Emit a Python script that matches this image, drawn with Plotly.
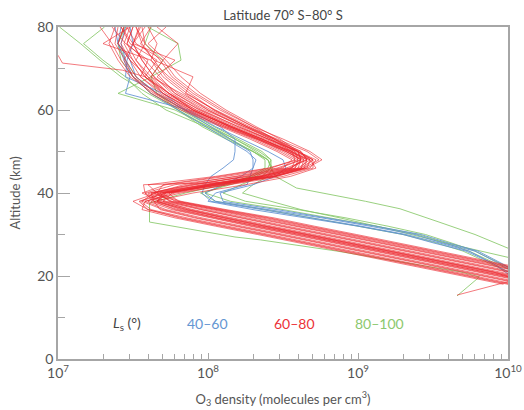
import plotly.graph_objects as go

# ---------------- data ----------------
# altitude grid (km) shared by most profiles
alt_grid = [18, 20, 23, 26, 28, 30, 32, 34, 36, 38, 40, 42, 44, 46, 48, 50, 53, 56, 60, 64, 68, 72, 76, 80]

# log10 of O3 density (molecules per cm^3) on alt_grid, Ls 60-80 (red)
red_logs = [
    [10.60, 10.33, 9.92, 9.51, 9.23, 8.96, 8.68, 8.41, 8.10, 7.80, 7.62, 8.00, 8.36, 8.62, 8.70, 8.60, 8.42, 8.24, 8.00, 7.80, 7.66, 7.78, 7.50, 7.55],
    [10.05, 9.78, 9.37, 8.96, 8.68, 8.41, 8.13, 7.86, 7.62, 7.55, 7.72, 8.05, 8.40, 8.60, 8.62, 8.52, 8.34, 8.15, 7.90, 7.70, 7.55, 7.48, 7.42, 7.46],
    [10.40, 10.13, 9.72, 9.31, 9.03, 8.76, 8.48, 8.21, 7.95, 7.70, 7.58, 7.78, 8.20, 8.52, 8.66, 8.62, 8.45, 8.28, 8.05, 7.85, 7.90, 7.64, 7.55, 7.62],
    [10.25, 9.98, 9.57, 9.16, 8.88, 8.61, 8.33, 8.06, 7.80, 7.62, 7.72, 8.10, 8.45, 8.68, 8.72, 8.60, 8.40, 8.20, 7.95, 7.74, 7.58, 7.66, 7.48, 7.42],
    [10.50, 10.23, 9.82, 9.41, 9.13, 8.86, 8.58, 8.31, 8.02, 7.75, 7.66, 7.60, 8.05, 8.40, 8.60, 8.58, 8.44, 8.30, 8.10, 7.92, 7.78, 7.70, 7.80, 7.66],
    [10.00, 9.73, 9.32, 8.91, 8.63, 8.36, 8.08, 7.81, 7.60, 7.50, 7.66, 7.98, 8.32, 8.56, 8.62, 8.54, 8.36, 8.16, 7.88, 7.66, 7.50, 7.42, 7.36, 7.28],
    [10.30, 10.03, 9.62, 9.21, 8.93, 8.66, 8.38, 8.11, 7.86, 7.66, 7.70, 8.02, 8.38, 8.64, 8.74, 8.66, 8.46, 8.26, 8.02, 7.82, 7.62, 7.52, 7.58, 7.52],
    [10.45, 10.18, 9.77, 9.36, 9.08, 8.81, 8.53, 8.26, 7.98, 7.72, 7.60, 7.90, 8.28, 8.55, 8.64, 8.56, 8.36, 8.14, 7.90, 7.70, 7.60, 7.48, 7.40, 7.44],
    [10.15, 9.88, 9.47, 9.06, 8.78, 8.51, 8.23, 7.96, 7.72, 7.58, 7.78, 8.15, 8.50, 8.70, 8.70, 8.58, 8.38, 8.18, 7.94, 7.76, 7.64, 7.56, 7.50, 7.58],
    [10.55, 10.28, 9.87, 9.46, 9.18, 8.91, 8.63, 8.36, 8.06, 7.76, 7.64, 7.84, 8.18, 8.48, 8.62, 8.60, 8.48, 8.32, 8.12, 7.95, 7.82, 7.72, 7.60, 7.72],
    [10.20, 9.93, 9.52, 9.11, 8.83, 8.56, 8.28, 8.01, 7.76, 7.60, 7.68, 8.00, 8.34, 8.56, 8.58, 8.48, 8.30, 8.10, 7.85, 7.65, 7.52, 7.45, 7.38, 7.40],
    [10.35, 10.08, 9.67, 9.26, 8.98, 8.71, 8.43, 8.16, 7.90, 7.68, 7.56, 7.72, 8.12, 8.46, 8.62, 8.60, 8.44, 8.24, 7.98, 7.78, 7.68, 7.58, 7.46, 7.50],
    [10.10, 9.83, 9.42, 9.01, 8.73, 8.46, 8.18, 7.91, 7.68, 7.64, 7.90, 8.25, 8.55, 8.72, 8.68, 8.54, 8.34, 8.12, 7.86, 7.68, 7.55, 7.60, 7.45, 7.36],
    [10.63, 10.36, 9.95, 9.54, 9.26, 8.99, 8.71, 8.44, 8.12, 7.82, 7.66, 7.70, 8.08, 8.42, 8.58, 8.56, 8.42, 8.26, 8.04, 7.88, 7.74, 7.62, 7.30, 7.48],
    [9.97, 9.70, 9.29, 8.88, 8.60, 8.33, 8.05, 7.78, 7.56, 7.58, 7.82, 8.12, 8.44, 8.62, 8.64, 8.52, 8.32, 8.10, 7.84, 7.64, 7.48, 7.40, 7.34, 7.38],
    [10.42, 10.15, 9.74, 9.33, 9.05, 8.78, 8.50, 8.23, 7.96, 7.74, 7.68, 7.96, 8.34, 8.60, 8.68, 8.60, 8.40, 8.22, 8.00, 7.84, 7.70, 7.62, 7.66, 7.60],
    [10.22, 9.95, 9.54, 9.13, 8.85, 8.58, 8.30, 8.03, 7.78, 7.64, 7.62, 7.88, 8.26, 8.54, 8.66, 8.62, 8.44, 8.26, 8.04, 7.86, 7.72, 7.64, 7.56, 7.52],
    [10.52, 10.25, 9.84, 9.43, 9.15, 8.88, 8.60, 8.33, 8.04, 7.78, 7.70, 8.04, 8.42, 8.66, 8.76, 8.68, 8.50, 8.30, 8.08, 7.90, 7.76, 7.68, 7.58, 7.56],
    [10.12, 9.85, 9.44, 9.03, 8.75, 8.48, 8.20, 7.93, 7.70, 7.56, 7.64, 7.92, 8.24, 8.50, 8.56, 8.46, 8.28, 8.08, 7.82, 7.62, 7.50, 7.44, 7.50, 7.42],
    [10.32, 10.05, 9.64, 9.23, 8.95, 8.68, 8.40, 8.13, 7.88, 7.70, 7.76, 8.08, 8.44, 8.64, 8.66, 8.54, 8.36, 8.16, 7.92, 7.72, 7.58, 7.50, 7.44, 7.48],
    [10.58, 10.31, 9.90, 9.49, 9.21, 8.94, 8.66, 8.39, 8.08, 7.80, 7.74, 8.02, 8.36, 8.58, 8.62, 8.52, 8.34, 8.14, 7.90, 7.74, 7.62, 7.70, 7.52, 7.46],
    [10.02, 9.75, 9.34, 8.93, 8.65, 8.38, 8.10, 7.83, 7.60, 7.54, 7.70, 8.02, 8.36, 8.58, 8.60, 8.50, 8.32, 8.12, 7.88, 7.70, 7.58, 7.50, 7.40, 7.44],
]

# red profiles with their own altitude points
red_zig_alt = [18, 20, 23, 26, 28, 30, 32, 34, 36, 38, 40, 42, 42.6, 44, 46, 48, 50, 53, 56, 60, 64, 68, 72, 76, 80]
red_zig_log = [10.28, 10.01, 9.60, 9.19, 8.91, 8.64, 8.36, 8.09, 7.84, 7.64, 7.58, 7.57, 8.18, 8.46, 8.64, 8.70, 8.60, 8.40, 8.20, 7.96, 7.78, 7.64, 7.56, 7.50, 7.54]

red_left_alt = [18, 20, 23, 26, 28, 30, 32, 34, 36, 38, 40, 42, 44, 46, 48, 50, 53, 56, 60, 64, 68, 69.6, 71.3, 73.2, 76, 80]
red_left_log = [10.25, 9.98, 9.57, 9.16, 8.88, 8.61, 8.33, 8.06, 7.82, 7.66, 7.74, 8.06, 8.40, 8.62, 8.66, 8.56, 8.36, 8.16, 7.92, 7.74, 7.58, 7.43, 7.03, 7.00, 6.80, 6.80]

red_hook_alt = [15.4, 19.2, 21, 23, 26, 28, 30, 32, 34, 36, 38, 40, 42, 44, 46, 48, 50, 53, 56, 60, 64, 68, 72, 76, 80]
red_hook_log = [9.66, 10.06, 9.90, 9.62, 9.21, 8.93, 8.66, 8.38, 8.11, 7.86, 7.66, 7.72, 8.06, 8.44, 8.66, 8.68, 8.56, 8.34, 8.14, 7.90, 7.74, 7.60, 7.52, 7.46, 7.50]

# Ls 40-60 (blue), on alt_grid
blue_logs = [
    [10.25, 10.08, 9.94, 9.78, 9.56, 9.38, 9.08, 8.76, 8.40, 8.05, 7.98, 8.10, 8.22, 8.30, 8.32, 8.26, 8.12, 7.98, 7.80, 7.62, 7.50, 7.45, 7.42, 7.45],
    [10.20, 10.02, 9.90, 9.72, 9.50, 9.30, 9.00, 8.66, 8.30, 8.00, 8.05, 8.26, 8.28, 8.30, 8.30, 8.28, 8.15, 8.02, 7.84, 7.66, 7.52, 7.48, 7.40, 7.38],
    [10.30, 10.10, 9.96, 9.80, 9.60, 9.42, 9.12, 8.80, 8.46, 8.10, 8.08, 8.30, 8.45, 8.52, 8.50, 8.40, 8.22, 8.05, 7.85, 7.70, 7.45, 7.46, 7.50, 7.48],
    [10.22, 10.05, 9.90, 9.74, 9.54, 9.32, 9.02, 8.70, 8.36, 8.02, 7.96, 7.98, 8.02, 8.10, 8.17, 8.18, 8.18, 8.08, 7.87, 7.45, 7.48, 7.44, 7.40, 7.42],
]

# Ls 80-100 (green)
green_logs = [
    [10.30, 10.10, 9.92, 9.74, 9.58, 9.40, 9.12, 8.82, 8.50, 8.15, 7.98, 8.12, 8.28, 8.38, 8.38, 8.30, 8.14, 7.98, 7.72, 7.56, 7.45, 7.30, 7.17, 7.31],
    [10.25, 10.06, 9.88, 9.70, 9.52, 9.30, 9.00, 8.70, 8.38, 8.05, 7.95, 8.15, 8.32, 8.42, 8.42, 8.34, 8.18, 8.00, 7.78, 7.40, 7.62, 7.70, 7.58, 7.62],
    [10.28, 10.12, 9.95, 9.78, 9.62, 9.45, 9.20, 8.92, 8.60, 8.25, 8.10, 8.22, 8.36, 8.42, 8.40, 8.30, 8.12, 7.96, 7.80, 7.66, 7.62, 7.82, 7.80, 7.60],
]

green_far_alt = [20, 24, 26.7, 30, 33, 36.2, 38, 40, 41.2, 44, 46, 48, 50, 53, 56, 60, 64, 68, 72, 76, 80]
green_far_log = [10.60, 10.28, 10.00, 9.78, 9.54, 9.28, 9.05, 8.76, 8.59, 8.45, 8.42, 8.40, 8.32, 8.18, 8.02, 7.82, 7.62, 7.50, 7.42, 7.40, 7.45]

green_mid_alt = [20, 24.5, 28, 31.8, 34, 36, 38, 40, 42, 44, 46, 48, 50, 53, 56, 60, 64, 68, 72, 76, 80]
green_mid_log = [10.35, 10.00, 9.58, 9.15, 8.88, 8.62, 8.42, 8.23, 8.30, 8.40, 8.43, 8.40, 8.30, 8.15, 8.00, 7.80, 7.60, 7.42, 7.28, 7.15, 7.01]

green_low_alt = [15.2, 19.8, 21, 23, 26, 28.7, 29.4, 33, 37.6, 40, 42, 44, 46, 48, 50, 53, 56, 60, 64, 68, 72, 76, 80]
green_low_log = [9.66, 9.81, 9.68, 9.34, 8.86, 8.35, 8.18, 7.61, 7.61, 7.85, 8.10, 8.30, 8.40, 8.42, 8.36, 8.20, 8.04, 7.84, 7.66, 7.52, 7.45, 7.40, 7.44]

x_tick_vals = [1e7, 1e8, 1e9, 1e10]
x_tick_text = ["10<sup>7</sup>", "10<sup>8</sup>", "10<sup>9</sup>", "10<sup>10</sup>"]
x_minor_vals = [m * 10 ** e for e in (7, 8, 9) for m in range(2, 10)]
y_tick_vals = [0, 20, 40, 60, 80]
y_minor_vals = [10, 30, 50, 70]

legend_labels = ["40–60", "60–80", "80–100"]

# ---------------- styling ----------------
RED = "rgba(236,40,46,0.62)"
BLUE = "rgba(95,145,210,0.85)"
GREEN = "rgba(135,200,105,0.85)"
FONT = "Lato, 'Open Sans', sans-serif"

fig = go.Figure()


def add(logs, alts, color):
    fig.add_trace(go.Scatter(
        x=[10 ** v for v in logs], y=alts, mode="lines",
        line=dict(color=color, width=1), showlegend=False, hoverinfo="skip"))


for p in green_logs:
    add(p, alt_grid, GREEN)
add(green_far_log, green_far_alt, GREEN)
add(green_mid_log, green_mid_alt, GREEN)
add(green_low_log, green_low_alt, GREEN)
for p in blue_logs:
    add(p, alt_grid, BLUE)
for p in red_logs:
    add(p, alt_grid, RED)
add(red_zig_log, red_zig_alt, RED)
add(red_left_log, red_left_alt, RED)
add(red_hook_log, red_hook_alt, RED)

# the page's default body margin is removed (see post_script), so the figure
# fills the 524x410 window exactly
W, H = 524, 410
L, T = 58, 27
PW, PH = 450, 332

axis_color = "#a6a6a6"
fig.update_layout(
    width=W, height=H,
    margin=dict(l=L, r=W - L - PW, t=T, b=H - T - PH, autoexpand=False),
    paper_bgcolor="white", plot_bgcolor="white",
    font=dict(family=FONT, size=13, color="#555"),
    title=dict(text="Latitude 70° S–80° S", x=(L + PW / 2) / W, xanchor="center",
               y=1 - 15 / H, yanchor="middle",
               font=dict(family=FONT, size=13, color="#444")),
    xaxis=dict(type="log", range=[7, 10], tickvals=x_tick_vals, ticktext=x_tick_text,
               automargin=False,
               ticks="inside", ticklen=6, tickcolor=axis_color, tickwidth=1,
               minor=dict(tickvals=x_minor_vals, ticks="inside", ticklen=5,
                          tickcolor=axis_color, tickwidth=1),
               showline=True, linecolor=axis_color, linewidth=1.5, mirror=True,
               showgrid=False, zeroline=False,
               tickfont=dict(size=14, color="#555"),
               title=dict(text="O<sub>3</sub> density (molecules per cm<sup>3</sup>)",
                          font=dict(size=13, color="#555"), standoff=15)),
    yaxis=dict(range=[0, 80], tickvals=y_tick_vals, automargin=False,
               ticks="inside", ticklen=12, tickcolor=axis_color, tickwidth=1.2,
               minor=dict(tickvals=y_minor_vals, ticks="inside", ticklen=7,
                          tickcolor=axis_color, tickwidth=1),
               showline=True, linecolor=axis_color, linewidth=1.5, mirror=True,
               showgrid=False, zeroline=False,
               tickfont=dict(size=14, color="#555"),
               title=dict(text="Altitude (km)", font=dict(size=13, color="#555"), standoff=14)),
)

ann_y = (359 - 323) / PH
fig.add_annotation(text="<i>L</i><sub>s</sub> (°)", xref="paper", yref="paper",
                   x=(127 - 58) / PW, y=ann_y, showarrow=False,
                   font=dict(size=14, color="#444"), xanchor="center", yanchor="middle")
for lab, cx, col in zip(legend_labels, [207, 294, 379],
                        ["rgb(100,150,210)", "rgb(236,50,56)", "rgb(140,200,110)"]):
    fig.add_annotation(text=lab, xref="paper", yref="paper",
                       x=(cx - 58) / PW, y=ann_y, showarrow=False,
                       font=dict(size=14, color=col), xanchor="center", yanchor="middle")

fig.write_html("out.html", config={"displayModeBar": False},
               post_script="document.body.style.margin='0';document.body.style.overflow='hidden';")
